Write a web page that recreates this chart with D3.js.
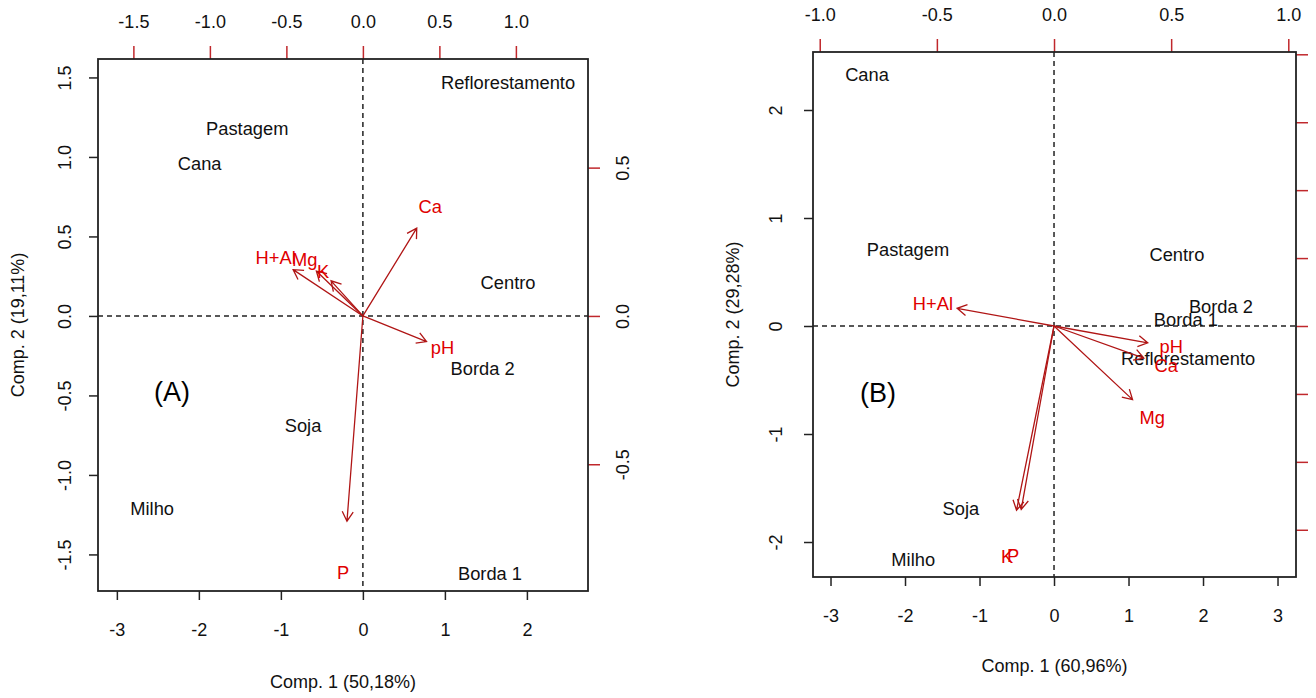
<!DOCTYPE html>
<html>
<head>
<meta charset="utf-8">
<script src="https://cdn.jsdelivr.net/npm/d3@7"></script>
<style>
  body { margin: 0; background: #fff; }
  svg text { font-family: "Liberation Sans", Arial, sans-serif; }
</style>
</head>
<body>
<div id="chart"></div>
<script>
// ---- Panel A data ----
var sitesA = ["Reflorestamento", "Pastagem", "Cana", "Centro", "Borda 2", "Soja", "Milho", "Borda 1"];
var scoreA1 = [1.77, -1.41, -1.99, 1.77, 1.46, -0.73, -2.57, 1.55];
var scoreA2 = [1.47, 1.18, 0.96, 0.21, -0.33, -0.69, -1.21, -1.62];
var varsA = ["Ca", "pH", "H+Al", "Mg", "K", "P"];
var loadA1 = [0.44, 0.52, -0.57, -0.38, -0.26, -0.13];
var loadA2 = [0.37, -0.108, 0.195, 0.189, 0.148, -0.865];

// ---- Panel B data ----
var sitesB = ["Cana", "Pastagem", "Centro", "Borda 2", "Borda 1", "Reflorestamento", "Soja", "Milho"];
var scoreB1 = [-2.51, -1.96, 1.65, 2.24, 1.77, 1.80, -1.25, -1.89];
var scoreB2 = [2.33, 0.71, 0.66, 0.18, 0.06, -0.30, -1.69, -2.16];
var varsB = ["H+Al", "pH", "Ca", "Mg", "K", "P"];
var loadB1 = [-0.517, 0.50, 0.479, 0.419, -0.20, -0.175];
var loadB2 = [0.065, -0.062, -0.118, -0.271, -0.678, -0.675];

// axis tick labels
var xTicksA = [-3, -2, -1, 0, 1, 2];
var yTicksA = [-1.5, -1.0, -0.5, 0.0, 0.5, 1.0, 1.5];
var x2TicksA = [-1.5, -1.0, -0.5, 0.0, 0.5, 1.0];
var y2TicksA = [-0.5, 0.0, 0.5];
var xTicksB = [-3, -2, -1, 0, 1, 2, 3];
var yTicksB = [-2, -1, 0, 1, 2];
var x2TicksB = [-1.0, -0.5, 0.0, 0.5, 1.0];
var y2TicksB = [-0.6, -0.4, -0.2, 0.0, 0.2, 0.4, 0.6, 0.8];

var svg = d3.select("#chart")
  .append("svg")
  .attr("width", 1316)
  .attr("height", 698);

var red = "#e00000";
var arrowRed = "#b01515";

// R style labels: plain hyphen for negatives
var fmt1 = d => d.toFixed(1);
var fmt0 = d => String(d);
var noLab = d => "";

function biplot(cfg) {
  var g = svg.append("g");

  var x = d3.scaleLinear().domain(cfg.xDom).range([cfg.left, cfg.right]);
  var y = d3.scaleLinear().domain(cfg.yDom).range([cfg.bottom, cfg.top]);
  // secondary (loading) scales share the zero with the primary ones
  var x2 = d3.scaleLinear().domain(cfg.xDom.map(v => v * cfg.ratio)).range([cfg.left, cfg.right]);
  var y2 = d3.scaleLinear().domain(cfg.yDom.map(v => v * cfg.ratio)).range([cfg.bottom, cfg.top]);

  // zero lines
  g.append("line")
    .attr("x1", cfg.left).attr("x2", cfg.right)
    .attr("y1", y(0)).attr("y2", y(0))
    .attr("stroke", "#222").attr("stroke-width", 1.5)
    .attr("stroke-dasharray", "5,4");
  g.append("line")
    .attr("x1", x(0)).attr("x2", x(0))
    .attr("y1", cfg.top).attr("y2", cfg.bottom)
    .attr("stroke", "#222").attr("stroke-width", 1.5)
    .attr("stroke-dasharray", "5,4");

  // site labels
  g.selectAll(".site")
    .data(cfg.sites)
    .enter()
    .append("text")
    .attr("x", (d, i) => x(cfg.s1[i]))
    .attr("y", (d, i) => y(cfg.s2[i]))
    .attr("dy", "0.35em")
    .attr("text-anchor", "middle")
    .attr("font-size", 18.3)
    .attr("fill", "#111")
    .text(d => d);

  // loading arrows (drawn to 0.8 of the label position)
  var head = 11;
  cfg.vars.forEach(function(v, i) {
    var x0 = x2(0), y0 = y2(0);
    var x1 = x2(cfg.l1[i] * 0.8), y1 = y2(cfg.l2[i] * 0.8);
    var a = Math.atan2(y1 - y0, x1 - x0);
    var w1 = [x1 - head * Math.cos(a - Math.PI / 6), y1 - head * Math.sin(a - Math.PI / 6)];
    var w2 = [x1 - head * Math.cos(a + Math.PI / 6), y1 - head * Math.sin(a + Math.PI / 6)];
    g.append("path")
      .attr("d", `M${x0},${y0}L${x1},${y1}M${w1[0]},${w1[1]}L${x1},${y1}L${w2[0]},${w2[1]}`)
      .attr("fill", "none")
      .attr("stroke", arrowRed)
      .attr("stroke-width", 1.3);
  });

  g.selectAll(".var")
    .data(cfg.vars)
    .enter()
    .append("text")
    .attr("x", (d, i) => x2(cfg.l1[i]))
    .attr("y", (d, i) => y2(cfg.l2[i]))
    .attr("dy", "0.35em")
    .attr("text-anchor", "middle")
    .attr("font-size", 18.3)
    .attr("fill", red)
    .text(d => d);

  // axes
  var bottom = g.append("g")
    .attr("transform", `translate(0, ${cfg.bottom})`)
    .call(d3.axisBottom(x).tickValues(cfg.xTicks).tickSize(9).tickSizeOuter(0).tickFormat(fmt0));
  bottom.selectAll("text").attr("y", 39).attr("dy", "0.35em");

  var left = g.append("g")
    .attr("transform", `translate(${cfg.left}, 0)`)
    .call(d3.axisLeft(y).tickValues(cfg.yTicks).tickSize(9).tickSizeOuter(0).tickFormat(cfg.yFmt));
  left.selectAll("text")
    .attr("x", null).attr("dy", "0.35em")
    .attr("text-anchor", "middle")
    .attr("transform", `translate(${-cfg.yLabOff}, 0) rotate(-90)`);

  var top = g.append("g")
    .attr("transform", `translate(0, ${cfg.top})`)
    .call(d3.axisTop(x2).tickValues(cfg.x2Ticks).tickSize(13).tickSizeOuter(0).tickFormat(fmt1));
  top.selectAll("text").attr("y", -37).attr("dy", "0.35em");
  top.selectAll("line").attr("stroke", "#c0282c");

  var right = g.append("g")
    .attr("transform", `translate(${cfg.right}, 0)`)
    .call(d3.axisRight(y2).tickValues(cfg.y2Ticks).tickSize(12).tickSizeOuter(0).tickFormat(cfg.y2Fmt));
  right.selectAll("text")
    .attr("x", null).attr("dy", "0.35em")
    .attr("text-anchor", "middle")
    .attr("transform", "translate(35, 0) rotate(-90)");
  right.selectAll("line").attr("stroke", "#c0282c");

  [bottom, left, top, right].forEach(function(ax) {
    ax.select(".domain").remove();
    ax.selectAll("text").attr("font-size", 18).attr("fill", "#111")
      .attr("font-family", "Liberation Sans, Arial, sans-serif");
    ax.selectAll("line").attr("stroke-width", 1.5);
  });
  bottom.selectAll("line").attr("stroke", "#222");
  left.selectAll("line").attr("stroke", "#222");

  // frame
  g.append("rect")
    .attr("x", cfg.left).attr("y", cfg.top)
    .attr("width", cfg.right - cfg.left)
    .attr("height", cfg.bottom - cfg.top)
    .attr("fill", "none")
    .attr("stroke", "#222")
    .attr("stroke-width", 1.8);

  // axis titles
  g.append("text")
    .attr("x", (cfg.left + cfg.right) / 2)
    .attr("y", cfg.bottom + cfg.xTitleOff)
    .attr("dy", "0.35em")
    .attr("text-anchor", "middle")
    .attr("font-size", 18)
    .attr("fill", "#111")
    .text(cfg.xTitle);

  g.append("text")
    .attr("transform", `translate(${cfg.left - 80}, ${(cfg.top + cfg.bottom) / 2}) rotate(-90)`)
    .attr("dy", "0.35em")
    .attr("text-anchor", "middle")
    .attr("font-size", 18)
    .attr("fill", "#111")
    .text(cfg.yTitle);

  // panel tag
  g.append("text")
    .attr("x", cfg.tag[0]).attr("y", cfg.tag[1])
    .attr("dy", "0.35em")
    .attr("text-anchor", "middle")
    .attr("font-family", "Open Sans, sans-serif")
    .attr("font-size", 27)
    .attr("fill", "#000")
    .text(cfg.tagText);
}

biplot({
  left: 98, right: 588, top: 59, bottom: 591,
  xDom: [-3.23, 2.745], yDom: [-1.73, 1.616], ratio: 0.536,
  sites: sitesA, s1: scoreA1, s2: scoreA2,
  vars: varsA, l1: loadA1, l2: loadA2,
  xTicks: xTicksA, yTicks: yTicksA, x2Ticks: x2TicksA, y2Ticks: y2TicksA,
  yFmt: fmt1, y2Fmt: fmt1, yLabOff: 33, xTitleOff: 91,
  xTitle: "Comp. 1 (50,18%)", yTitle: "Comp. 2 (19,11%)",
  tag: [172, 392], tagText: "(A)"
});

biplot({
  left: 813, right: 1296, top: 52, bottom: 577,
  xDom: [-3.235, 3.248], yDom: [-2.324, 2.537], ratio: 0.318,
  sites: sitesB, s1: scoreB1, s2: scoreB2,
  vars: varsB, l1: loadB1, l2: loadB2,
  xTicks: xTicksB, yTicks: yTicksB, x2Ticks: x2TicksB, y2Ticks: y2TicksB,
  yFmt: fmt0, y2Fmt: noLab, yLabOff: 37, xTitleOff: 89,
  xTitle: "Comp. 1 (60,96%)", yTitle: "Comp. 2 (29,28%)",
  tag: [878, 393], tagText: "(B)"
});
</script>
</body>
</html>
